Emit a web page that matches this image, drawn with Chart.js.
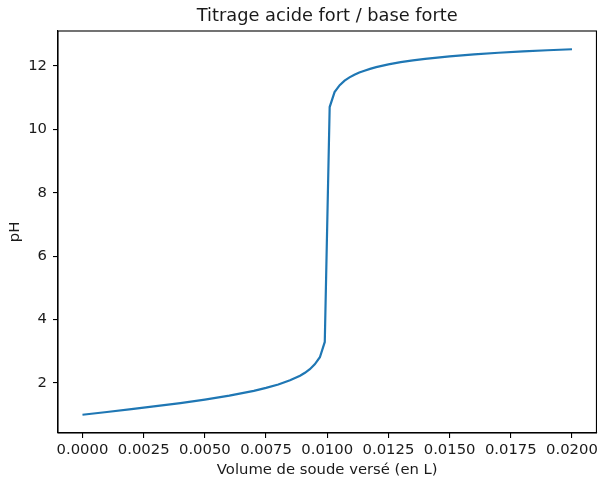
<!DOCTYPE html>
<html>
<head>
<meta charset="utf-8">
<script src="https://cdn.jsdelivr.net/npm/chart.js@4/dist/chart.umd.min.js"></script>
<style>
  html, body { margin: 0; padding: 0; background: #fff; }
  #wrap { width: 601px; height: 479px; }
</style>
</head>
<body>
<div id="wrap"><canvas id="chart"></canvas></div>
<script>
// volume de soude versé (L) et pH
let volumes = [0, 0.001, 0.002, 0.003, 0.004, 0.005, 0.006, 0.007, 0.0075, 0.008,
    0.00848, 0.00889, 0.00909, 0.00929, 0.00949, 0.00970, 0.00990,
    0.01010, 0.01030, 0.01051, 0.01071, 0.01091, 0.01111, 0.01131, 0.01152,
    0.01175, 0.012, 0.0125, 0.013, 0.0135, 0.014, 0.015, 0.016, 0.017, 0.018, 0.019, 0.020]
let phValues = [1.000, 1.087, 1.176, 1.269, 1.368, 1.477, 1.602, 1.753, 1.845, 1.954,
    2.086, 2.230, 2.322, 2.436, 2.587, 2.813, 3.295,
    10.701, 11.174, 11.391, 11.533, 11.638, 11.721, 11.790, 11.848,
    11.906, 11.959, 12.046, 12.115, 12.173, 12.222, 12.301, 12.363, 12.414, 12.456, 12.492, 12.523]
let xTicks = [0, 0.0025, 0.005, 0.0075, 0.01, 0.0125, 0.015, 0.0175, 0.02]
let yTicks = [2, 4, 6, 8, 10, 12]
let titleText = 'Titrage acide fort / base forte'
let xLabel = 'Volume de soude versé (en L)'
let yLabel = 'pH'

const font = 'DejaVu Sans'
const textColor = '#1a1a1a'

// cadre complet + titre centré sur la zone du graphe
const framePlugin = {
    id: 'frame',
    afterDraw(chart) {
        const { ctx, chartArea: a } = chart
        ctx.save()
        ctx.strokeStyle = '#000'
        ctx.lineWidth = 1.1
        ctx.strokeRect(a.left, a.top, a.right - a.left, a.bottom - a.top)
        ctx.fillStyle = textColor
        ctx.font = '17.8px "' + font + '"'
        ctx.textAlign = 'center'
        ctx.textBaseline = 'alphabetic'
        ctx.fillText(titleText, (a.left + a.right) / 2, a.top - 10)
        ctx.restore()
    }
}

const points = volumes.map((v, i) => ({ x: v, y: phValues[i] }))

new Chart(document.getElementById('chart'), {
    type: 'line',
    data: {
        datasets: [{
            data: points,
            borderColor: '#1f77b4',
            borderWidth: 2.2,
            pointRadius: 0,
            tension: 0,
            fill: false
        }]
    },
    options: {
        responsive: true,
        maintainAspectRatio: false,
        animation: false,
        layout: { padding: { top: 31, right: 3, left: 0, bottom: 0 } },
        plugins: {
            legend: { display: false },
            title: { display: false },
            tooltip: { enabled: false }
        },
        scales: {
            x: {
                type: 'linear',
                min: -0.001,
                max: 0.021,
                afterFit: (s) => { s.height = 46 },
                afterBuildTicks: (s) => { s.ticks = xTicks.map(v => ({ value: v })) },
                grid: { drawOnChartArea: false, drawTicks: true, tickLength: 5, color: '#000', lineWidth: 1.1 },
                border: { display: true, color: '#000', width: 1.1 },
                ticks: {
                    color: textColor,
                    padding: 3,
                    maxRotation: 0,
                    autoSkip: false,
                    font: { family: font, size: 14.8 },
                    callback: (v) => v.toFixed(4)
                },
                title: {
                    display: true,
                    text: xLabel,
                    color: textColor,
                    font: { family: font, size: 14.8 },
                    padding: { top: 0, bottom: 0 }
                }
            },
            y: {
                type: 'linear',
                min: 0.424,
                max: 13.099,
                afterFit: (s) => { s.width = 58 },
                afterBuildTicks: (s) => { s.ticks = yTicks.map(v => ({ value: v })) },
                grid: { drawOnChartArea: false, drawTicks: true, tickLength: 5, color: '#000', lineWidth: 1.1 },
                border: { display: true, color: '#000', width: 1.1 },
                ticks: {
                    color: textColor,
                    padding: 6,
                    autoSkip: false,
                    font: { family: font, size: 14.8 },
                    callback: (v) => String(v)
                },
                title: {
                    display: true,
                    text: yLabel,
                    color: textColor,
                    font: { family: font, size: 14.8 },
                    padding: { top: 6, bottom: 0 }
                }
            }
        }
    },
    plugins: [framePlugin]
})
</script>
</body>
</html>
